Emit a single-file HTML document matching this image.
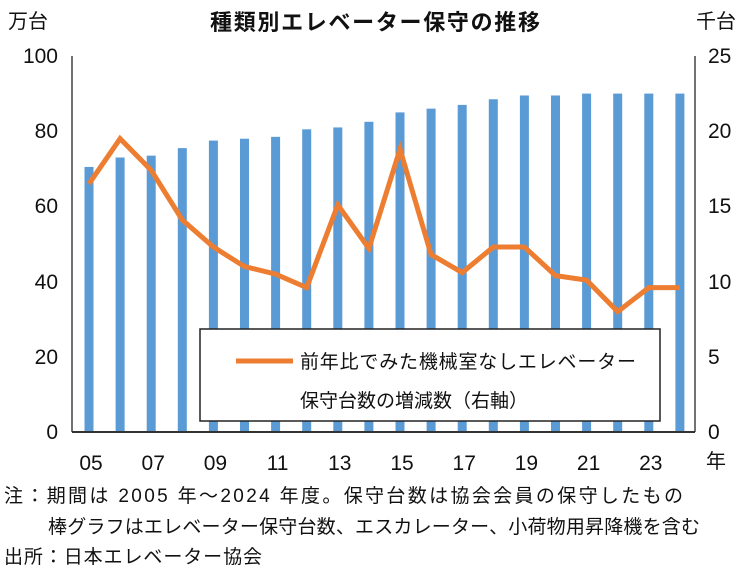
<!DOCTYPE html>
<html><head><meta charset="utf-8"><style>
body{margin:0;background:#fff;}
svg text{font-family:"Liberation Sans","Noto Sans CJK JP",sans-serif;fill:#111;}
</style></head><body>
<svg width="749" height="571" viewBox="0 0 749 571" xmlns="http://www.w3.org/2000/svg">
<text x="375" y="30" font-size="22" text-anchor="middle" textLength="330" font-weight="bold" fill="#222">種類別エレベーター保守の推移</text>
<text x="8" y="28" font-size="20">万台</text>
<text x="696" y="28" font-size="20">千台</text>
<g font-size="21" text-anchor="end">
<text x="58" y="63">100</text><text x="58" y="138">80</text><text x="58" y="213">60</text><text x="58" y="289">40</text><text x="58" y="364">20</text><text x="58" y="439">0</text>
</g>
<g font-size="21">
<text x="708" y="63">25</text><text x="708" y="138">20</text><text x="708" y="213">15</text><text x="708" y="289">10</text><text x="708" y="364">5</text><text x="708" y="439">0</text>
</g>
<g fill="#5B9BD5" id="bars"></g>
<line x1="72" y1="56" x2="72" y2="432" stroke="#444" stroke-width="1.5"/>
<line x1="695" y1="56" x2="695" y2="432" stroke="#444" stroke-width="1.5"/>
<line x1="72" y1="432" x2="695" y2="432" stroke="#333" stroke-width="2"/>
<polyline id="ln" fill="none" stroke="#ED7D31" stroke-width="5" stroke-linejoin="miter"/>
<rect x="200" y="329" width="460" height="92" fill="#fff" stroke="#222" stroke-width="1.5"/>
<line x1="236" y1="361" x2="293" y2="361" stroke="#ED7D31" stroke-width="5"/>
<text x="300" y="368" font-size="19" textLength="336">前年比でみた機械室なしエレベーター</text>
<text x="300" y="407" font-size="19">保守台数の増減数（右軸）</text>
<g font-size="21" text-anchor="middle" id="xl"></g>
<text x="706" y="468" font-size="20">年</text>
<text x="4" y="502" font-size="19" textLength="679">注：期間は 2005 年～2024 年度。保守台数は協会会員の保守したもの</text>
<text x="48" y="533" font-size="19" textLength="652">棒グラフはエレベーター保守台数、エスカレーター、小荷物用昇降機を含む</text>
<text x="4" y="563" font-size="19" textLength="258">出所：日本エレベーター協会</text>
<script>
var b=[70.5,73,73.5,75.5,77.5,78,78.5,80.5,81,82.5,85,86,87,88.5,89.5,89.5,90,90,90,90];
var l=[16.5,19.5,17.4,14.1,12.3,11,10.5,9.6,15.1,12.2,18.8,11.8,10.6,12.3,12.3,10.4,10.1,8,9.6,9.6];
var g=document.getElementById('bars'),pts=[],xl=document.getElementById('xl');
for(var i=0;i<20;i++){var cx=89+31.1*i,h=b[i]*3.76;
var r=document.createElementNS('http://www.w3.org/2000/svg','rect');
r.setAttribute('x',cx-4.5);r.setAttribute('y',432-h);r.setAttribute('width',9);r.setAttribute('height',h);g.appendChild(r);
pts.push(cx+','+(432-l[i]*15.04));
if(i%2==0){var t=document.createElementNS('http://www.w3.org/2000/svg','text');t.setAttribute('x',cx+2);t.setAttribute('y',470);t.textContent=String(5+i).padStart(2,'0');xl.appendChild(t);}}
document.getElementById('ln').setAttribute('points',pts.join(' '));
</script>
</svg>
</body></html>
